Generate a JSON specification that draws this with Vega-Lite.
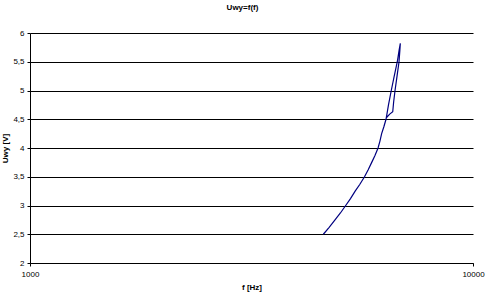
{
  "$schema": "https://vega.github.io/schema/vega-lite/v6.json",
  "width": 443,
  "height": 230,
  "autosize": {"type": "none"},
  "padding": {"left": 30, "top": 33, "right": 12, "bottom": 31},
  "background": "white",
  "title": {"text": "Uwy=f(f)", "font": "Liberation Sans", "fontSize": 8, "fontWeight": "bold", "color": "black", "anchor": "middle", "offset": 17, "dx": -9},
  "config": {"view": {"stroke": null}},
  "data": {"values": [
    {"i": 1, "f": 4594, "u": 2.5},
    {"i": 2, "f": 4735, "u": 2.62},
    {"i": 3, "f": 4881, "u": 2.75},
    {"i": 4, "f": 5020, "u": 2.87},
    {"i": 5, "f": 5160, "u": 3.0},
    {"i": 6, "f": 5290, "u": 3.12},
    {"i": 7, "f": 5420, "u": 3.25},
    {"i": 8, "f": 5555, "u": 3.37},
    {"i": 9, "f": 5690, "u": 3.5},
    {"i": 10, "f": 5800, "u": 3.62},
    {"i": 11, "f": 5907, "u": 3.75},
    {"i": 12, "f": 6008, "u": 3.87},
    {"i": 13, "f": 6105, "u": 4.0},
    {"i": 14, "f": 6165, "u": 4.12},
    {"i": 15, "f": 6220, "u": 4.25},
    {"i": 16, "f": 6292, "u": 4.37},
    {"i": 17, "f": 6363, "u": 4.5},
    {"i": 18, "f": 6445, "u": 4.75},
    {"i": 19, "f": 6539, "u": 5.0},
    {"i": 20, "f": 6640, "u": 5.25},
    {"i": 21, "f": 6747, "u": 5.5},
    {"i": 22, "f": 6810, "u": 5.7},
    {"i": 23, "f": 6854, "u": 5.82},
    {"i": 24, "f": 6838, "u": 5.7},
    {"i": 25, "f": 6808, "u": 5.5},
    {"i": 26, "f": 6738, "u": 5.25},
    {"i": 27, "f": 6668, "u": 5.0},
    {"i": 28, "f": 6620, "u": 4.8},
    {"i": 29, "f": 6589, "u": 4.63},
    {"i": 30, "f": 6486, "u": 4.59},
    {"i": 31, "f": 6380, "u": 4.53}
  ]},
  "mark": {"type": "line", "color": "#000080", "strokeWidth": 1.2},
  "encoding": {
    "order": {"field": "i", "type": "quantitative"},
    "x": {
      "field": "f", "type": "quantitative",
      "scale": {"type": "log", "domain": [1000, 10000], "nice": false},
      "axis": {
        "title": "f [Hz]", "values": [1000, 10000], "format": "d",
        "grid": false, "domainColor": "black", "domainWidth": 1,
        "tickColor": "black", "tickSize": 3,
        "labelFont": "Liberation Sans", "labelFontSize": 8, "labelColor": "black", "labelPadding": 4,
        "labelFlush": false,
        "titleFont": "Liberation Sans", "titleFontSize": 8, "titleFontWeight": "bold", "titleColor": "black", "titlePadding": 5
      }
    },
    "y": {
      "field": "u", "type": "quantitative",
      "scale": {"domain": [2, 6], "nice": false, "zero": false},
      "axis": {
        "title": "Uwy [V]", "values": [2, 2.5, 3, 3.5, 4, 4.5, 5, 5.5, 6],
        "labelExpr": "replace(format(datum.value, '.1~f'), '.', ',')",
        "grid": true, "gridColor": "black", "gridWidth": 1, "gridOpacity": 1,
        "domainColor": "black", "domainWidth": 1,
        "tickColor": "black", "tickSize": 3,
        "labelFont": "Liberation Sans", "labelFontSize": 8, "labelColor": "black", "labelPadding": 3,
        "titleFont": "Liberation Sans", "titleFontSize": 8, "titleFontWeight": "bold", "titleColor": "black", "titlePadding": 3
      }
    }
  }
}
